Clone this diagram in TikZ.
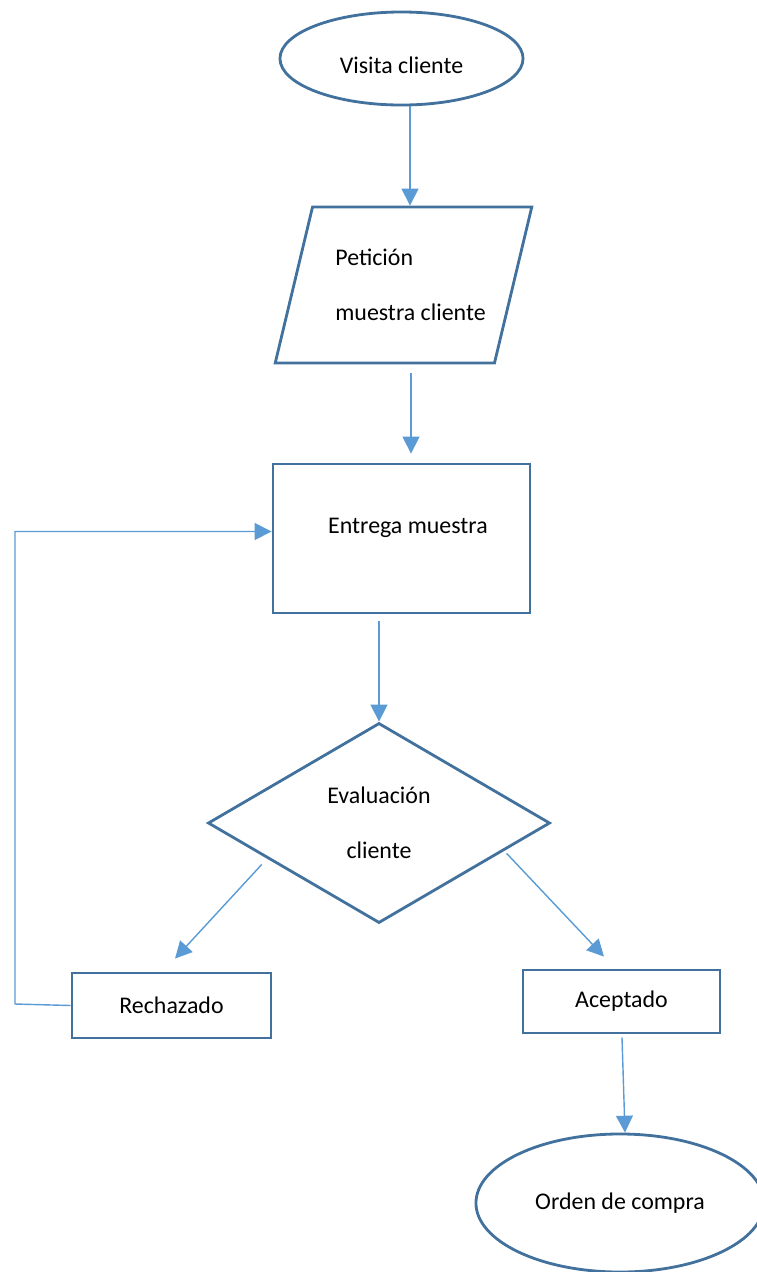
\documentclass[tikz,border=0pt]{standalone}
\usepackage{fontspec}
\setmainfont{Carlito}
\usetikzlibrary{shapes.geometric,arrows.meta,calc}
\definecolor{borde}{HTML}{41719C}
\definecolor{flecha}{HTML}{5B9BD5}
\begin{document}
\begin{tikzpicture}[
    x=0.025cm, y=-0.025cm,
    every node/.style={font=\fontsize{17}{39.5}\selectfont},
    startstop/.style={ellipse, draw=borde, line width=2pt, inner sep=0pt},
    io/.style={trapezium, trapezium left angle=65, trapezium right angle=115, trapezium stretches=true, draw=borde, line width=2pt, inner sep=0pt, align=left},
    process/.style={rectangle, draw=borde, line width=2pt, inner sep=0pt},
    decision/.style={diamond, draw=borde, line width=2pt, inner sep=0pt, align=center},
    arrow/.style={draw=flecha, line width=1pt, -{Triangle[length=12pt,width=12pt]}}
]
\clip (0,0) rectangle (757,1272);

% Nodes
\node (visita) [startstop, minimum width=6.075cm, minimum height=2.325cm] at (401.5,58.5) {\raisebox{-0.17cm}[\height][0pt]{Visita cliente}};
\node (peticion) [io, minimum width=6.425cm, minimum height=3.9cm] at (403.5,285) {\hspace*{0.35cm}Petición\\\hspace*{0.35cm}muestra cliente};
\node (entrega) [process, minimum width=6.425cm, minimum height=3.725cm] at (401.5,538.5) {};
\node (entregatxt) at (408,528) {Entrega muestra};
\node (evaluacion) [decision, minimum width=8.55cm, minimum height=5cm] at (379,823) {Evaluación\\cliente};
\node (rechazado) [process, minimum width=4.975cm, minimum height=1.625cm] at (171.5,1005.5) {Rechazado};
\node (aceptado) [process, minimum width=4.925cm, minimum height=1.575cm] at (621.5,1001.5) {Aceptado};
\node (orden) [startstop, minimum width=7.2cm, minimum height=3.45cm] at (620,1203) {Orden de compra};
\coordinate (retorno) at (15,1004);

% Arrows
\draw [arrow] ($(visita.south)+(8.5,0)$) -- ($(visita.south |- peticion.north)+(8.5,0)$);
\draw [arrow] ($(peticion.south -| entrega.north)+(9.5,9)$) -- ($(entrega.north)+(9.5,-9)$);
\draw [arrow] ($(entrega.south -| evaluacion.north)+(0,7)$) -- (evaluacion.north);
\draw [arrow] ($(evaluacion.west)!0.32!(evaluacion.south)+(0,9)$) -- ($(rechazado.north)+(3.5,-13)$);
\draw [arrow] ($(evaluacion.east)!0.26!(evaluacion.south)+(0,4)$) -- ($(aceptado.north)+(-17.5,-12)$);
\draw [arrow] ($(aceptado.south)+(0.5,3)$) -- ($(orden.north)+(5,0)$);
\draw [arrow] (rechazado.west) -- (retorno) |- ($(entrega.west)+(0,-7)$);

\end{tikzpicture}
\end{document}
